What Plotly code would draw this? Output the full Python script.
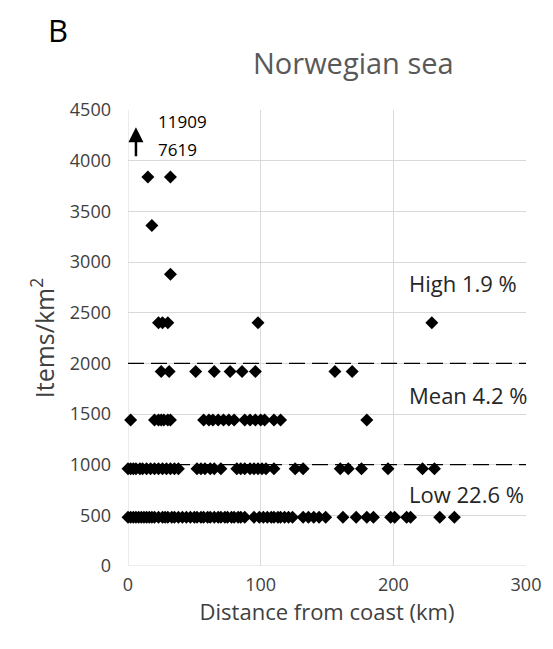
import plotly.graph_objects as go

# distance (km) for each items/km2 level
x_480 = [0, 2, 4, 6, 8, 10, 12, 14, 16, 18, 20, 23, 26, 28, 30, 33, 35, 38, 41, 44, 47, 50,
         52, 55, 57, 60, 62, 65, 68, 70, 73, 75, 78, 80, 83, 85, 88, 95, 99, 102, 105, 108,
         110, 113, 115, 118, 121, 124, 132, 136, 140, 144, 149, 162, 172, 180, 185, 198,
         201, 210, 213, 235, 246]
x_960 = [0, 2, 4, 6, 9, 11, 14, 17, 20, 23, 26, 29, 32, 35, 38, 52, 55, 58, 62, 65, 70,
         82, 85, 88, 92, 95, 98, 101, 104, 110, 126, 132, 160, 166, 176, 196, 222, 231]
x_1440 = [2, 20, 23, 25, 27, 30, 32, 57, 61, 64, 68, 72, 76, 80, 88, 92, 96, 100, 103,
          110, 115, 180]
x_1920 = [25, 31, 51, 65, 77, 86, 96, 156, 169]
x_2400 = [23, 26, 30, 98, 229]
x_2880 = [32]
x_3360 = [18]
x_3840 = [15, 32]

levels = [480, 960, 1440, 1920, 2400, 2880, 3360, 3840]
xs_by_level = [x_480, x_960, x_1440, x_1920, x_2400, x_2880, x_3360, x_3840]

thresholds = [1000, 2000]
zone_labels = ["High 1.9 %", "Mean 4.2 %", "Low 22.6 %"]
zone_label_y = [2790, 1690, 710]
off_scale_values = ["11909", "7619"]

xs, ys = [], []
for lvl, xl in zip(levels, xs_by_level):
    xs += xl
    ys += [lvl] * len(xl)

font = "'Open Sans', sans-serif"
fig = go.Figure()
fig.add_trace(go.Scatter(
    x=xs, y=ys, mode="markers",
    marker=dict(symbol="diamond", size=10, color="black"),
    cliponaxis=False, showlegend=False))

for t in thresholds:
    fig.add_shape(type="line", xref="x", yref="y", x0=0, x1=300, y0=t, y1=t,
                  line=dict(color="black", width=1.3, dash="16px,7px"))

for lab, yy in zip(zone_labels, zone_label_y):
    fig.add_annotation(x=210, y=yy, text=lab, showarrow=False, xanchor="left",
                       font=dict(family=font, size=22, color="#262626"))

# arrow for off-scale values
fig.add_annotation(x=6, y=4330, ax=6, ay=4030, xref="x", yref="y", axref="x", ayref="y",
                   showarrow=True, arrowhead=2, arrowsize=1.2, arrowwidth=2.5,
                   arrowcolor="black", text="")
fig.add_annotation(x=21, y=4390, text=off_scale_values[0], showarrow=False, xanchor="left",
                   font=dict(family=font, size=17, color="black"))
fig.add_annotation(x=21, y=4110, text=off_scale_values[1], showarrow=False, xanchor="left",
                   font=dict(family=font, size=17, color="black"))

# panel letter and title
fig.add_annotation(xref="paper", yref="paper", x=-0.205, y=1.225, xanchor="left", yanchor="top",
                   text="B", showarrow=False, font=dict(family=font, size=31, color="black"))
fig.add_annotation(xref="paper", yref="paper", x=0.566, y=1.105, xanchor="center", yanchor="middle",
                   text="Norwegian sea", showarrow=False,
                   font=dict(family=font, size=29, color="#595959"))

fig.update_layout(
    width=553, height=649,
    margin=dict(l=128, r=17, t=110, b=83),
    paper_bgcolor="white", plot_bgcolor="white",
    font=dict(family=font, size=18, color="#404040"),
)
fig.update_xaxes(range=[0, 300], dtick=100, showgrid=True, gridcolor="#d9d9d9",
                 zeroline=False, showline=False, ticks="", ticklabelstandoff=6,
                 ticklabeloverflow="allow",
                 title=dict(text="Distance from coast (km)", font=dict(size=22, color="#404040"), standoff=8),
                 tickfont=dict(size=18, color="#404040"))
fig.update_yaxes(range=[0, 4500], dtick=500, showgrid=True, gridcolor="#d9d9d9",
                 zeroline=False, showline=False, ticks="", ticklabelstandoff=16,
                 title=dict(text="Items/km<sup>2</sup>", font=dict(size=25, color="#404040"), standoff=8),
                 tickfont=dict(size=18, color="#404040"))
fig.add_shape(type="line", xref="x", yref="y", x0=0, x1=0, y0=0, y1=4500,
              line=dict(color="#d9d9d9", width=1), layer="below")
fig.add_shape(type="line", xref="x", yref="y", x0=0, x1=300, y0=0, y1=0,
              line=dict(color="#d9d9d9", width=1), layer="below")
fig.write_html("out.html", config={"displayModeBar": False},
               post_script="document.body.style.margin='0px';")
